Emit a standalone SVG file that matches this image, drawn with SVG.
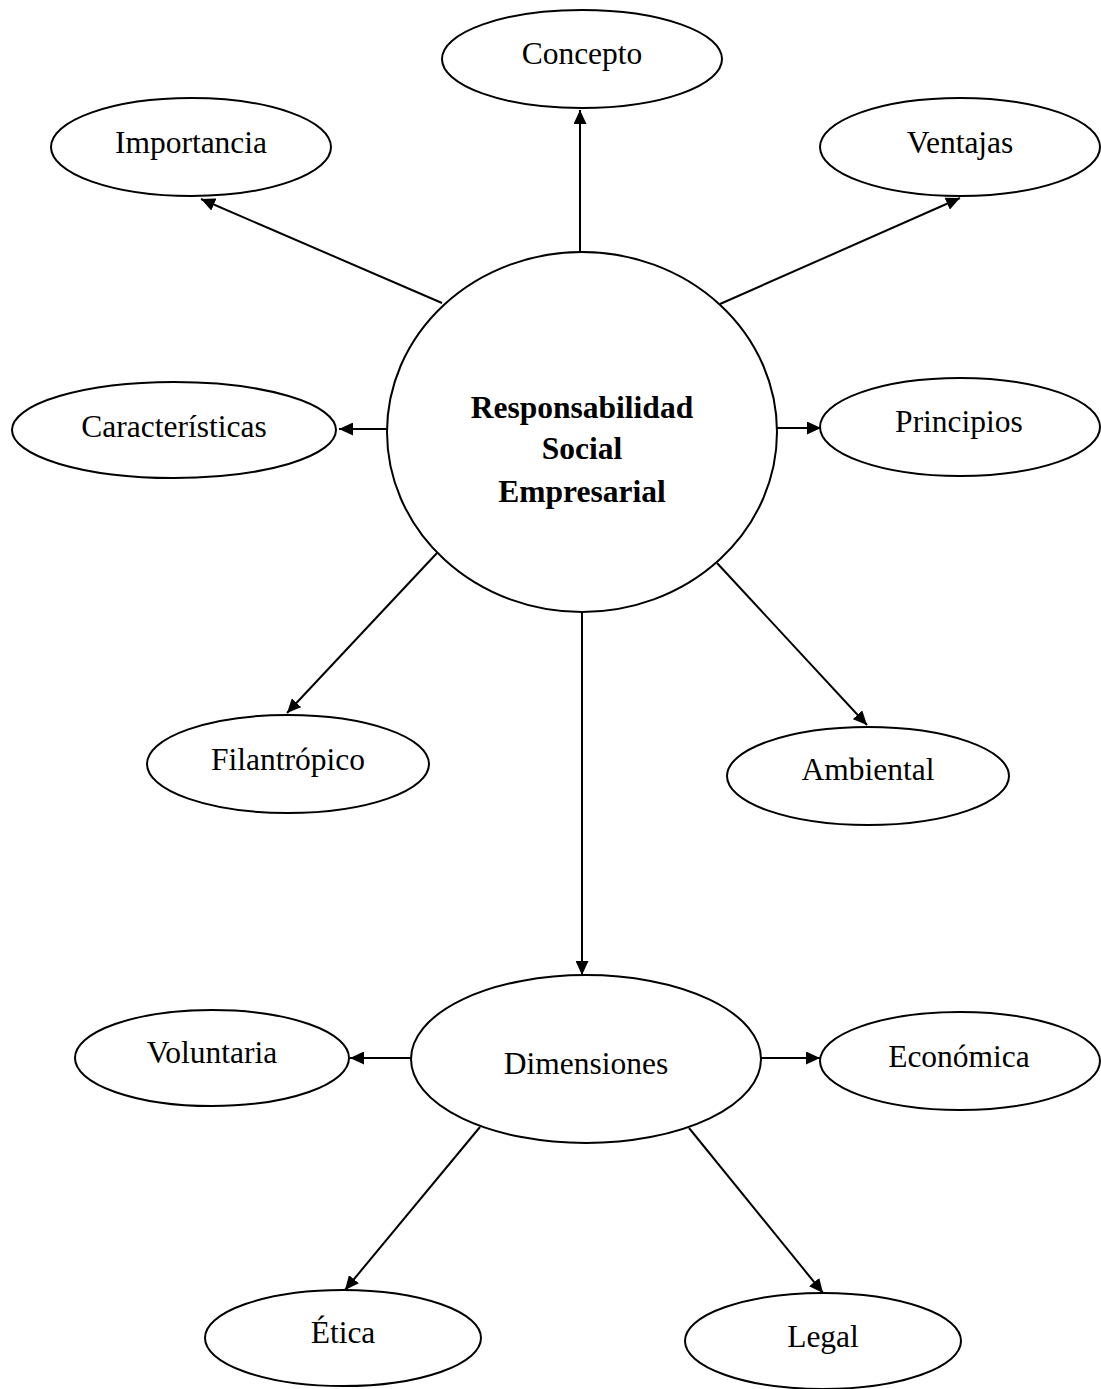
<svg xmlns="http://www.w3.org/2000/svg" width="1101" height="1389" viewBox="0 0 1101 1389">
<style>
.n{fill:#fff;stroke:#000;stroke-width:2}
.t{font-family:"Liberation Serif","Times New Roman",serif;font-size:31.5px;text-anchor:middle;fill:#000}
.b{font-weight:bold}
.c{fill:none;stroke:#000;stroke-width:2;marker-end:url(#ah)}
</style>
<defs>
<marker id="ah" markerUnits="userSpaceOnUse" markerWidth="15" markerHeight="13" refX="14" refY="6.5" orient="auto">
<path d="M0,0 L14,6.5 L0,13 z" fill="#000"/>
</marker>
</defs>
<rect width="1101" height="1389" fill="#fff"/>
<g id="connectors">
<line class="c" x1="580" y1="253" x2="580" y2="110"/>
<line class="c" x1="442" y1="303" x2="201" y2="199"/>
<line class="c" x1="720" y1="304" x2="960" y2="198"/>
<line class="c" x1="387" y1="429" x2="339" y2="429"/>
<line class="c" x1="777" y1="428" x2="821" y2="428"/>
<line class="c" x1="437" y1="553" x2="287" y2="713"/>
<line class="c" x1="717" y1="563" x2="867" y2="725"/>
<line class="c" x1="582" y1="613" x2="582" y2="975"/>
<line class="c" x1="411" y1="1058" x2="350" y2="1058"/>
<line class="c" x1="761" y1="1058" x2="820" y2="1058"/>
<line class="c" x1="480" y1="1127" x2="345" y2="1290"/>
<line class="c" x1="689" y1="1128" x2="823" y2="1293"/>
</g>
<g id="center">
<ellipse class="n" cx="582" cy="432" rx="195" ry="180"/>
<text class="t b" x="582" y="418">Responsabilidad</text>
<text class="t b" x="582" y="459">Social</text>
<text class="t b" x="582" y="502">Empresarial</text>
</g>
<g id="concepto"><ellipse class="n" cx="582" cy="59" rx="140" ry="49"/><text class="t" x="582" y="64">Concepto</text></g>
<g id="importancia"><ellipse class="n" cx="191" cy="147" rx="140" ry="49"/><text class="t" x="191" y="153">Importancia</text></g>
<g id="ventajas"><ellipse class="n" cx="960" cy="147" rx="140" ry="49"/><text class="t" x="960" y="153">Ventajas</text></g>
<g id="caracteristicas"><ellipse class="n" cx="174" cy="430" rx="162" ry="48"/><text class="t" x="174" y="437">Características</text></g>
<g id="principios"><ellipse class="n" cx="960" cy="427" rx="140" ry="49"/><text class="t" x="959" y="432">Principios</text></g>
<g id="filantropico"><ellipse class="n" cx="288" cy="764" rx="141" ry="49"/><text class="t" x="288" y="770">Filantrópico</text></g>
<g id="ambiental"><ellipse class="n" cx="868" cy="776" rx="141" ry="49"/><text class="t" x="868" y="780">Ambiental</text></g>
<g id="dimensiones"><ellipse class="n" cx="586" cy="1059" rx="175" ry="84"/><text class="t" x="586" y="1074">Dimensiones</text></g>
<g id="voluntaria"><ellipse class="n" cx="212" cy="1058" rx="137" ry="48"/><text class="t" x="212" y="1063">Voluntaria</text></g>
<g id="economica"><ellipse class="n" cx="960" cy="1061" rx="140" ry="49"/><text class="t" x="959" y="1067">Económica</text></g>
<g id="etica"><ellipse class="n" cx="343" cy="1338" rx="138" ry="48"/><text class="t" x="343" y="1343">Ética</text></g>
<g id="legal"><ellipse class="n" cx="823" cy="1341" rx="138" ry="48"/><text class="t" x="823" y="1347">Legal</text></g>
</svg>
